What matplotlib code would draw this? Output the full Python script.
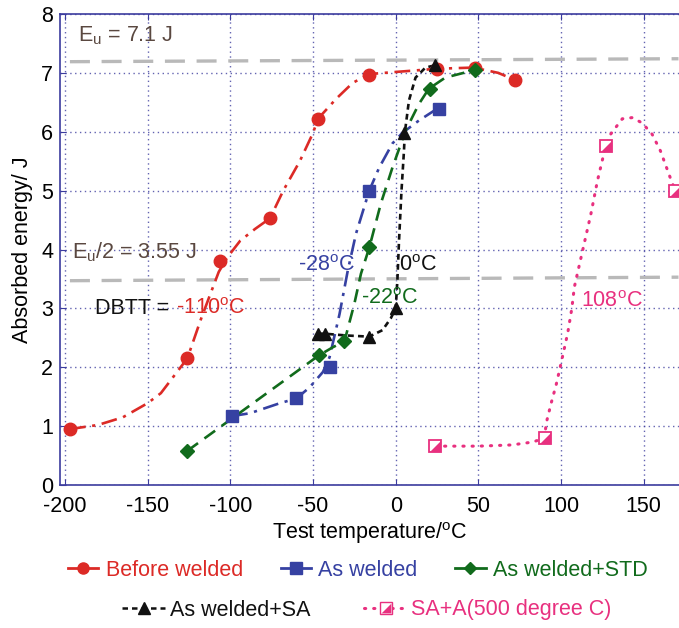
import numpy as np
import matplotlib.pyplot as plt
from matplotlib.lines import Line2D
from matplotlib.legend_handler import HandlerTuple

plt.rcParams['font.family'] = ['Liberation Sans', 'DejaVu Sans']
plt.rcParams['mathtext.fontset'] = 'custom'
plt.rcParams['mathtext.rm'] = 'Liberation Sans'
plt.rcParams['axes.unicode_minus'] = False

# measured points
before_x = [-197, -126, -106, -76, -47, -16, 25, 48, 72]
before_y = [0.95, 2.15, 3.80, 4.53, 6.22, 6.97, 7.07, 7.09, 6.88]
welded_x = [-99, -60, -39.5, -16, 26]
welded_y = [1.17, 1.47, 2.00, 5.00, 6.39]
std_x = [-126, -46.5, -31, -16, 21, 48]
std_y = [0.58, 2.20, 2.44, 4.05, 6.73, 7.05]
sa_x = [-47, -43, -16, 0, 5, 24]
sa_y = [2.57, 2.57, 2.52, 3.00, 5.98, 7.13]
saa_x = [24, 90, 127, 169]
saa_y = [0.66, 0.80, 5.76, 5.00]

# fitted curves
before_cx = [-197, -180, -165, -150, -142, -126, -118, -112, -107, -102, -94, -85, -76,
             -68, -58, -50, -47, -36, -26, -16, 2, 25, 47, 62, 72]
before_cy = [0.95, 1.02, 1.15, 1.39, 1.56, 2.15, 2.80, 3.25, 3.62, 3.86, 4.15, 4.35, 4.53,
             5.00, 5.50, 5.98, 6.22, 6.56, 6.83, 6.98, 7.02, 7.07, 7.09, 7.00, 6.88]
welded_cx = [-99, -88, -70, -60, -52, -44, -40, -34, -29, -24, -16, -10, -2, 4, 14, 25]
welded_cy = [1.17, 1.22, 1.39, 1.47, 1.66, 1.92, 2.17, 2.90, 3.64, 4.27, 5.00, 5.39,
             5.80, 5.98, 6.19, 6.39]
std_cx = [-126, -46.5, -38, -31, -25, -21, -16, -9, -2, 6, 14, 20, 30, 48]
std_cy = [0.58, 2.20, 2.34, 2.44, 3.08, 3.59, 4.03, 4.78, 5.39, 6.02, 6.47, 6.73, 6.92, 7.05]
sa_cx = [-47, -43, -30, -16, -8, -3, 0, 1, 2, 3.5, 5, 5.5, 8, 12, 18, 24]
sa_cy = [2.57, 2.57, 2.54, 2.52, 2.63, 2.83, 3.00, 3.47, 4.15, 5.00, 5.68, 5.98, 6.53,
         6.92, 7.09, 7.13]
saa_cx = [24, 50, 70, 83, 90, 91, 94, 97, 100, 104, 106.5, 108, 113, 118, 122, 127, 130,
          137, 143, 149, 155, 160, 166, 169]
saa_cy = [0.66, 0.66, 0.68, 0.73, 0.80, 1.05, 1.39, 1.70, 2.07, 2.58, 3.00, 3.36, 3.98,
          4.60, 5.17, 5.76, 5.96, 6.22, 6.24, 6.15, 5.96, 5.68, 5.22, 5.00]

# reference levels
ref_x = [-197, 171]
eu_y = [7.19, 7.24]
half_y = [3.47, 3.53]

RED = '#dc2a26'
BLUE = '#3641a2'
GREEN = '#116b1c'
BLACK = '#111111'
PINK = '#e8307f'
BROWN = '#5a4840'
AXC = '#3c3c9e'
FS = 15.5

fig = plt.figure(figsize=(6.79, 6.28), dpi=100)
ax = fig.add_axes([60 / 679, 1 - 485 / 628, 619 / 679, 471 / 628])

ax.plot(ref_x, eu_y, color='#b9b9b9', lw=2.4, dashes=(6, 3.5), zorder=1)
ax.plot(ref_x, half_y, color='#b9b9b9', lw=2.4, dashes=(6, 3.5), zorder=1)

ax.plot(before_cx, before_cy, color=RED, lw=1.9, dashes=(6, 2.5, 1.2, 2.5), zorder=3)
ax.plot(welded_cx, welded_cy, color=BLUE, lw=1.9, dashes=(6, 2.5, 1.2, 2.5), zorder=3)
ax.plot(std_cx, std_cy, color=GREEN, lw=1.9, dashes=(5, 3), zorder=3)
ax.plot(sa_cx, sa_cy, color=BLACK, lw=1.9, dashes=(2.2, 1.6), zorder=3)
ax.plot(saa_cx, saa_cy, color=PINK, lw=2.2, dashes=(0.4, 2.6), dash_capstyle='round', zorder=3)

ax.plot(before_x, before_y, 'o', color=RED, ms=9, zorder=4)
ax.plot(welded_x, welded_y, 's', color=BLUE, ms=9, zorder=4)
ax.plot(std_x, std_y, 'D', color=GREEN, ms=7, zorder=4)
ax.plot(sa_x, sa_y, '^', color=BLACK, ms=9, zorder=4)
half_tri = [(-1, -1), (1, -1), (1, 1), (-1, -1)]
ax.plot(saa_x, saa_y, 's', mfc='white', mec=PINK, mew=1.3, ms=9, zorder=4)
ax.plot(saa_x, saa_y, marker=half_tri, ls='none', color=PINK, mew=0, ms=8, zorder=5)

ax.set_xlim(-203, 171.3)
ax.set_ylim(0, 8)
ax.set_xticks(np.arange(-200, 151, 50))
ax.set_yticks(np.arange(0, 9, 1))
ax.grid(True, color=AXC, ls=(0, (1, 2.5)), lw=1.0, alpha=0.8)
ax.set_axisbelow(True)
for s in ['left', 'bottom', 'top']:
    ax.spines[s].set_color(AXC)
    ax.spines[s].set_linewidth(1.2)
ax.spines['right'].set_visible(False)
ax.tick_params(direction='in', top=True, length=4, color=AXC, labelsize=FS)
ax.tick_params(axis='x', pad=8)
ax.tick_params(axis='y', pad=5)

ax.set_xlabel('Test temperature/$^\\mathregular{o}$C', fontsize=FS, labelpad=2)
ax.set_ylabel('Absorbed energy/ J', fontsize=FS, labelpad=6)

ax.text(-192, 7.54, 'E$_\\mathregular{u}$ = 7.1 J', color=BROWN, fontsize=FS)
ax.text(-196, 3.85, 'E$_\\mathregular{u}$/2 = 3.55 J', color=BROWN, fontsize=FS)
ax.text(-182, 2.9, 'DBTT = ', color=BLACK, fontsize=FS)
ax.text(-133, 2.9, '-110$^\\mathregular{o}$C', color=RED, fontsize=FS)
ax.text(-59, 3.64, '-28$^\\mathregular{o}$C', color=BLUE, fontsize=FS)
ax.text(2, 3.64, '0$^\\mathregular{o}$C', color=BLACK, fontsize=FS)
ax.text(-21, 3.08, '-22$^\\mathregular{o}$C', color=GREEN, fontsize=FS)
ax.text(112, 3.02, '108$^\\mathregular{o}$C', color=PINK, fontsize=FS)

# legend, first row
h1 = [Line2D([], [], color=RED, marker='o', ms=8, lw=2),
      Line2D([], [], color=BLUE, marker='s', ms=8, lw=2),
      Line2D([], [], color=GREEN, marker='D', ms=6, lw=2)]
fig.legend(h1, ['Before welded', 'As welded', 'As welded+STD'], loc='center',
           bbox_to_anchor=(358 / 679, 1 - 570 / 628), ncol=3, frameon=False,
           fontsize=FS, handlelength=1.4, handletextpad=0.35, columnspacing=1.75,
           labelcolor=[RED, BLUE, GREEN])

# legend, second row
h_sa = Line2D([], [], color=BLACK, marker='^', ms=8, lw=1.8, dashes=(2.2, 1.6))
h_sq = Line2D([], [], color=PINK, marker='s', mfc='white', mec=PINK, ms=8, lw=2.2,
              dashes=(0.4, 2.6), dash_capstyle='round')
h_tri = Line2D([], [], color=PINK, marker=half_tri, ms=7, mew=0, ls='none')
fig.legend([h_sa, (h_sq, h_tri)], ['As welded+SA', 'SA+A(500 degree C)'], loc='center',
           bbox_to_anchor=(367 / 679, 1 - 610 / 628), ncol=2, frameon=False,
           fontsize=FS, handlelength=2.0, handletextpad=0.2, columnspacing=2.5,
           labelcolor=[BLACK, PINK], handler_map={tuple: HandlerTuple(ndivide=1)})

fig.savefig('out.png', dpi=100)
